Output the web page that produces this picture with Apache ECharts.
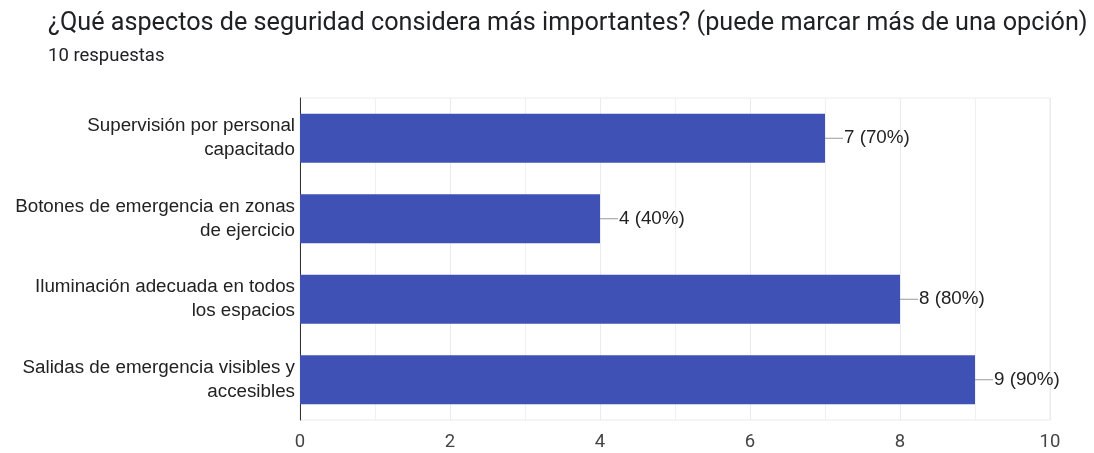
<!DOCTYPE html>
<html>
<head>
<meta charset="utf-8">
<script src="https://cdn.jsdelivr.net/npm/echarts@6/dist/echarts.min.js"></script>
<style>
  html, body { margin: 0; padding: 0; background: #fff; }
  #chart { width: 1094px; height: 453px; }
</style>
</head>
<body>
<div id="chart"></div>
<script>
// Survey question and answer counts
const titleText = '¿Qué aspectos de seguridad considera más importantes? (puede marcar más de una opción)';
const subtitleText = '10 respuestas';
const totalResponses = 10;
const categories = [
  'Supervisión por personal\ncapacitado',
  'Botones de emergencia en zonas\nde ejercicio',
  'Iluminación adecuada en todos\nlos espacios',
  'Salidas de emergencia visibles y\naccesibles'
];
const counts = [7, 4, 8, 9];
const xTicks = [0, 2, 4, 6, 8, 10];

const SANS = "'Liberation Sans', Arial, sans-serif";

const chart = echarts.init(document.getElementById('chart'));
chart.setOption({
  animation: false,
  backgroundColor: '#ffffff',
  title: [
    {
      text: titleText, left: 43, top: 6,
      textStyle: { fontFamily: 'Roboto', fontSize: 25.2, fontWeight: 'normal', color: '#202124' }
    },
    {
      text: subtitleText, left: 43, top: 42,
      textStyle: { fontFamily: 'Roboto', fontSize: 18.5, fontWeight: 'normal', color: '#202124' }
    }
  ],
  grid: {
    left: 300, right: 44, top: 98, bottom: 33,
    show: true, borderColor: '#ebebeb', borderWidth: 1
  },
  xAxis: {
    type: 'value',
    min: xTicks[0], max: xTicks[xTicks.length - 1], interval: 2,
    axisLine: { show: false },
    axisTick: { show: false },
    axisLabel: { fontFamily: 'Roboto', fontSize: 18.5, color: '#444', margin: 13 },
    splitLine: { show: true, lineStyle: { color: '#ebebeb', width: 1 } },
    minorTick: { show: false, splitNumber: 2 },
    minorSplitLine: { show: true, lineStyle: { color: '#f0f0f0', width: 1 } }
  },
  yAxis: {
    type: 'category',
    inverse: true,
    data: categories,
    axisLine: { show: true, lineStyle: { color: '#333', width: 1 } },
    axisTick: { show: false },
    axisLabel: {
      fontFamily: SANS, fontSize: 18.8, color: '#222',
      lineHeight: 24, align: 'right', margin: 5
    },
    splitLine: { show: false }
  },
  series: [{
    type: 'bar',
    data: counts,
    barWidth: 49,
    itemStyle: { color: '#3f51b5' },
    label: {
      show: true,
      position: 'right',
      distance: 0,
      formatter: p => '{line|}{txt|' + p.value + ' (' + Math.round(p.value / totalResponses * 100) + '%)}',
      rich: {
        line: { width: 18, height: 1, backgroundColor: '#999', verticalAlign: 'middle' },
        txt: {
          fontFamily: SANS, fontSize: 18.8, color: '#222',
          verticalAlign: 'middle', padding: [0, 0, 0, 1]
        }
      }
    }
  }]
});
</script>
</body>
</html>
